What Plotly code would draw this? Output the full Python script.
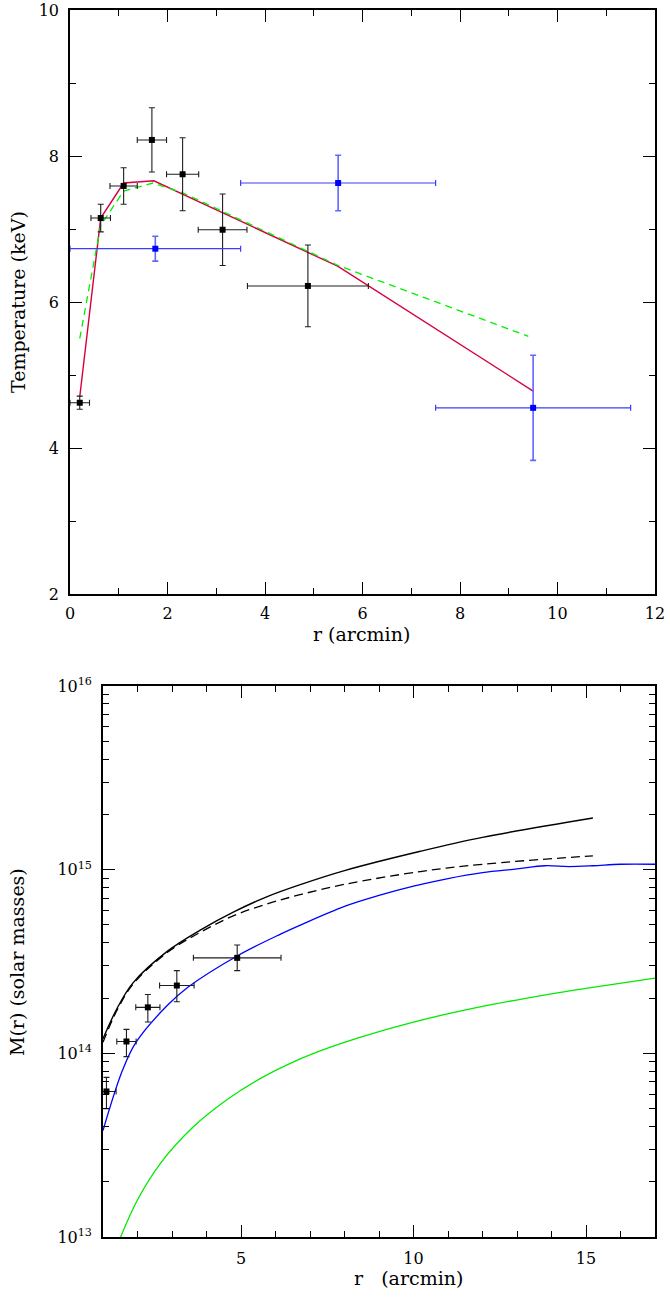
import plotly.graph_objects as go

# ---------------- Top panel data: temperature profile ----------------
t_black_r = [0.2, 0.63, 1.1, 1.68, 2.31, 3.13, 4.88]
t_black_T = [4.62, 7.15, 7.59, 8.22, 7.75, 6.99, 6.22]
t_black_rerr = [0.2, 0.2, 0.28, 0.3, 0.33, 0.5, 1.24]
t_black_Terr = [0.09, 0.19, 0.25, 0.44, 0.5, 0.49, 0.56]

t_blue_r = [1.75, 5.5, 9.5]
t_blue_T = [6.73, 7.63, 4.55]
t_blue_rerr = [1.75, 2.0, 2.0]
t_blue_Terr = [0.17, 0.38, 0.72]

red_r = [0.2, 0.63, 1.1, 1.72, 5.49, 9.5]
red_T = [4.7, 7.15, 7.63, 7.66, 6.49, 4.78]

green_r = [0.2, 0.63, 1.1, 1.7, 2.3, 5.5, 9.4]
green_T = [5.5, 7.05, 7.52, 7.63, 7.50, 6.5, 5.53]

top_xticks = [0, 2, 4, 6, 8, 10, 12]
top_yticks = [2, 4, 6, 8, 10]

# ---------------- Bottom panel data: mass profile (units of 1e14 Msun) ----------------
m_pts_r = [1.1, 1.68, 2.30, 3.14, 4.89]
m_pts_M = [0.62, 1.16, 1.78, 2.34, 3.31]
m_pts_rerr = [0.28, 0.28, 0.35, 0.5, 1.27]
m_pts_Mplus = [0.12, 0.19, 0.31, 0.48, 0.58]
m_pts_Mminus = [0.12, 0.20, 0.30, 0.43, 0.49]

solid_r = [1.0, 1.41, 1.87, 2.87, 3.83, 4.79, 5.78, 6.74, 8.0, 10.2, 12.0, 15.2]
solid_M = [1.20, 1.76, 2.42, 3.60, 4.70, 5.89, 7.16, 8.32, 9.89, 12.6, 15.0, 19.1]

dashed_r = [1.0, 1.41, 1.87, 2.87, 3.83, 4.79, 5.78, 6.74, 8.0, 10.2, 12.0, 15.2]
dashed_M = [1.15, 1.72, 2.38, 3.55, 4.57, 5.62, 6.53, 7.33, 8.32, 9.77, 10.7, 11.9]

blue_r = [1.0, 1.57, 1.96, 2.86, 3.46, 4.89, 6.16, 6.74, 8.0, 9.0, 10.0, 11.0, 12.0, 13.0, 13.8, 14.5, 15.2, 16.0, 17.0]
blue_M = [0.38, 0.813, 1.15, 1.82, 2.29, 3.39, 4.47, 5.01, 6.31, 7.24, 8.13, 8.95, 9.64, 10.1, 10.5, 10.4, 10.5, 10.7, 10.7]

lgreen_r = [1.4, 1.99, 2.66, 3.62, 4.61, 5.58, 6.54, 7.53, 8.49, 10.0, 12.0, 14.0, 15.0, 17.0]
lgreen_M = [0.089, 0.158, 0.251, 0.398, 0.562, 0.733, 0.902, 1.07, 1.23, 1.48, 1.80, 2.11, 2.26, 2.57]

bot_xticks = [5, 10, 15]
bot_ydecades = [13, 14, 15, 16]

UNIT = 1e14

W, H = 665, 1292
TICKFONT = "DejaVu Serif"
TITLEFONT = "DejaVu Serif"


def dom_x(a, b):
    return [a / W, b / W]


def dom_y(top, bottom):
    return [1 - bottom / H, 1 - top / H]


fig = go.Figure()

# --- top panel ---
fig.add_trace(go.Scatter(x=red_r, y=red_T, mode="lines",
                         line=dict(color="rgb(215,0,60)", width=1.4),
                         xaxis="x", yaxis="y", showlegend=False))
fig.add_trace(go.Scatter(x=green_r, y=green_T, mode="lines",
                         line=dict(color="rgb(0,240,0)", width=1.3, dash="7px,5px"),
                         xaxis="x", yaxis="y", showlegend=False))
fig.add_trace(go.Scatter(
    x=t_black_r, y=t_black_T, mode="markers",
    marker=dict(symbol="square", size=6, color="black"),
    error_x=dict(type="data", array=t_black_rerr, color="rgb(30,30,30)", thickness=1.1, width=3),
    error_y=dict(type="data", array=t_black_Terr, color="rgb(30,30,30)", thickness=1.1, width=3),
    xaxis="x", yaxis="y", showlegend=False))
fig.add_trace(go.Scatter(
    x=t_blue_r, y=t_blue_T, mode="markers",
    marker=dict(symbol="square", size=6, color="rgb(0,0,255)"),
    error_x=dict(type="data", array=t_blue_rerr, color="rgb(60,60,255)", thickness=1.2, width=3),
    error_y=dict(type="data", array=t_blue_Terr, color="rgb(100,100,255)", thickness=1.6, width=3),
    xaxis="x", yaxis="y", showlegend=False))

# --- bottom panel ---
fig.add_trace(go.Scatter(x=lgreen_r, y=[v * UNIT for v in lgreen_M], mode="lines",
                         line=dict(color="rgb(0,235,0)", width=1.3, shape="spline"),
                         xaxis="x2", yaxis="y2", showlegend=False))
fig.add_trace(go.Scatter(x=blue_r, y=[v * UNIT for v in blue_M], mode="lines",
                         line=dict(color="rgb(0,0,255)", width=1.3, shape="spline"),
                         xaxis="x2", yaxis="y2", showlegend=False))
fig.add_trace(go.Scatter(x=dashed_r, y=[v * UNIT for v in dashed_M], mode="lines",
                         line=dict(color="black", width=1.3, dash="9px,5px", shape="spline"),
                         xaxis="x2", yaxis="y2", showlegend=False))
fig.add_trace(go.Scatter(x=solid_r, y=[v * UNIT for v in solid_M], mode="lines",
                         line=dict(color="black", width=1.4, shape="spline"),
                         xaxis="x2", yaxis="y2", showlegend=False))
fig.add_trace(go.Scatter(
    x=m_pts_r, y=[v * UNIT for v in m_pts_M], mode="markers",
    marker=dict(symbol="square", size=6, color="black"),
    error_x=dict(type="data", array=m_pts_rerr, color="rgb(30,30,30)", thickness=1.1, width=3),
    error_y=dict(type="data", symmetric=False,
                 array=[v * UNIT for v in m_pts_Mplus],
                 arrayminus=[v * UNIT for v in m_pts_Mminus],
                 color="rgb(30,30,30)", thickness=1.1, width=3),
    xaxis="x2", yaxis="y2", showlegend=False))

tickfont = dict(family=TICKFONT, size=16, color="black")
common = dict(showline=True, linecolor="black", linewidth=1.6, mirror="allticks",
              ticks="inside", ticklen=12, tickwidth=1.3, tickcolor="black",
              showgrid=False, zeroline=False, tickfont=tickfont, automargin=False,
              ticklabeloverflow="allow")
minor_style = dict(ticks="inside", ticklen=6, tickcolor="black", tickwidth=1.3, showgrid=False)

minor_top_x = [v for v in range(1, 12, 2)]
minor_top_y = [3, 5, 7, 9]
minor_bot_x = [v for v in range(2, 17) if v % 5 != 0]
minor_bot_y = [m * 10 ** d for d in (13, 14, 15) for m in range(2, 10)]

fig.update_layout(
    width=W, height=H,
    margin=dict(l=0, r=0, t=0, b=0, autoexpand=False),
    paper_bgcolor="white", plot_bgcolor="white",
    xaxis=dict(domain=dom_x(70, 655), anchor="y", range=[0, 12],
               tickvals=top_xticks, ticktext=[str(v) for v in top_xticks],
               minor=dict(tickvals=minor_top_x, **minor_style),
               ticklabelstandoff=4, **common),
    yaxis=dict(domain=dom_y(10, 594), anchor="x", range=[2, 10],
               tickvals=top_yticks, ticktext=[str(v) for v in top_yticks],
               minor=dict(tickvals=minor_top_y, **minor_style),
               ticklabelstandoff=6, **common),
    xaxis2=dict(domain=dom_x(103, 655), anchor="y2", range=[1, 17],
                tickvals=bot_xticks, ticktext=[str(v) for v in bot_xticks],
                minor=dict(tickvals=minor_bot_x, **minor_style),
                ticklabelstandoff=6, **common),
    yaxis2=dict(domain=dom_y(686, 1237), anchor="x2", type="log", range=[13, 16],
                tickvals=[10 ** d for d in bot_ydecades],
                ticktext=["10<sup>%d</sup>" % d for d in bot_ydecades],
                minor=dict(tickvals=minor_bot_y, **minor_style),
                ticklabelstandoff=6, **common),
)

titlefont = dict(family=TITLEFONT, size=19, color="black")
ann = [
    dict(text="Temperature (keV)", x=18 / W, y=1 - 302 / H, textangle=-90),
    dict(text="r (arcmin)", x=362 / W, y=1 - 634 / H, textangle=0),
    dict(text="M(r) (solar masses)", x=17 / W, y=1 - 962 / H, textangle=-90),
    dict(text="r\u00a0\u00a0\u00a0(arcmin)", x=408 / W, y=1 - 1278 / H, textangle=0),
]
for a in ann:
    fig.add_annotation(xref="paper", yref="paper", showarrow=False,
                       xanchor="center", yanchor="middle", font=titlefont, **a)

fig.write_html("out.html", config={"displayModeBar": False},
               post_script="document.body.style.margin='0px';document.body.style.overflow='hidden';")
